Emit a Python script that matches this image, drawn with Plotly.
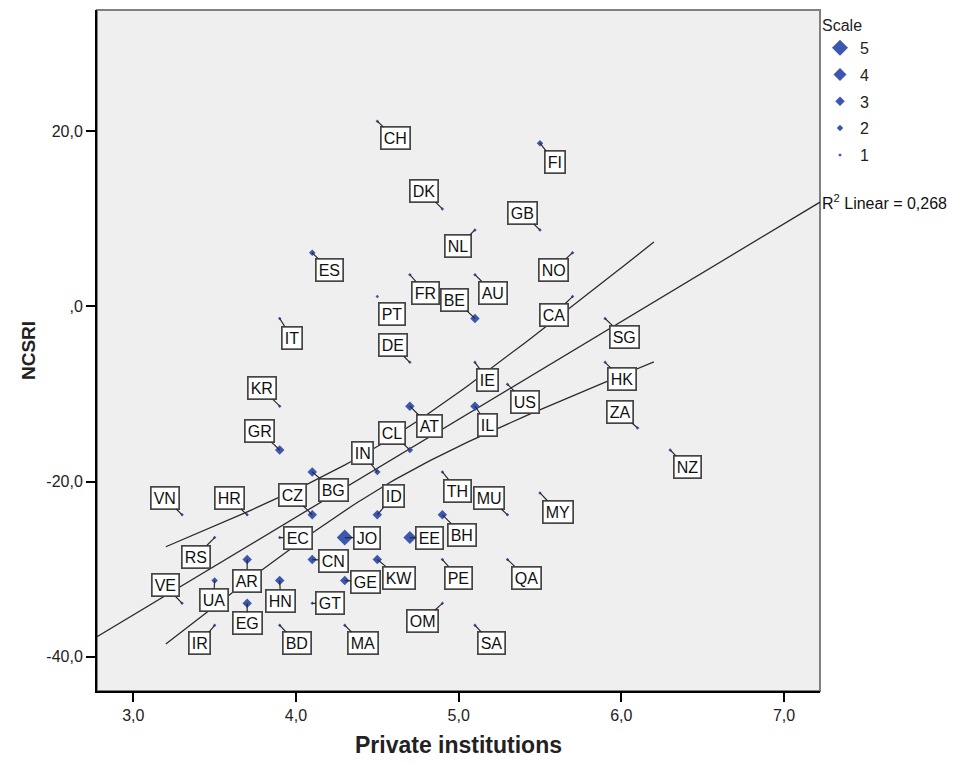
import numpy as np
import plotly.graph_objects as go

# ---------------- data ----------------
countries = ["CH", "FI", "DK", "GB", "NL", "ES", "NO", "FR", "AU", "BE",
             "PT", "CA", "IT", "SG", "DE", "KR", "IE", "HK", "US", "AT",
             "IL", "ZA", "GR", "CL", "IN", "NZ", "TH", "VN", "HR", "CZ",
             "BG", "ID", "MU", "MY", "RS", "EC", "JO", "EE", "BH", "CN",
             "KW", "AR", "PE", "QA", "VE", "UA", "HN", "GE", "GT", "EG",
             "OM", "IR", "BD", "MA", "SA"]
private_institutions = [4.5, 5.5, 4.9, 5.5, 5.1, 4.1, 5.7, 4.7, 5.1, 5.1,
                        4.5, 5.7, 3.9, 5.9, 4.7, 3.9, 5.1, 5.9, 5.3, 4.7,
                        5.1, 6.1, 3.9, 4.7, 4.5, 6.3, 4.9, 3.3, 3.7, 4.1,
                        4.1, 4.5, 5.3, 5.5, 3.5, 3.9, 4.3, 4.7, 4.9, 4.1,
                        4.5, 3.7, 4.9, 5.3, 3.3, 3.5, 3.9, 4.3, 4.1, 3.7,
                        4.9, 3.5, 3.9, 4.3, 5.1]
ncsri = [21.1, 18.6, 11.1, 8.7, 8.7, 6.1, 6.1, 3.6, 3.6, -1.4,
         1.1, 1.1, -1.4, -1.4, -6.4, -11.4, -6.4, -6.4, -8.9, -11.4,
         -11.4, -13.9, -16.4, -16.4, -18.9, -16.4, -18.9, -23.8, -23.8, -23.8,
         -18.9, -23.8, -23.8, -21.3, -26.4, -26.4, -26.4, -26.4, -23.8, -28.9,
         -28.9, -28.9, -28.9, -28.9, -33.9, -31.3, -31.3, -31.3, -33.9, -33.9,
         -33.9, -36.4, -36.4, -36.4, -36.4]
scale = [1, 2, 1, 1, 1, 2, 1, 1, 1, 3,
         1, 1, 1, 1, 1, 1, 1, 1, 1, 3,
         3, 1, 3, 2, 2, 1, 1, 1, 1, 3,
         3, 3, 1, 1, 1, 1, 5, 4, 3, 3,
         3, 3, 1, 1, 1, 2, 3, 3, 1, 3,
         1, 1, 1, 1, 1]
# label box offset from its point (pixels, y downwards)
label_dx = [18, 15, -18, -18, -17, 17, -19, 16, 18, -20,
            15, -19, 12, 19, -17, -18, 13, 17, 18, 20,
            13, -18, -20, -18, -15, 17, 15, -17, -18, -20,
            21, 16, -18, 18, -19, 18, 22, 20, 20, 21,
            22, 0, 16, 19, -17, -1, 1, 21, 18, 0,
            -20, -15, 17, 18, 17]
label_dy = [17, 19, -18, -17, 16, 17, 17, 18, 18, -19,
            17, 18, 19, 18, -17, -18, 18, 17, 18, 20,
            19, -16, -19, -17, -19, 17, 19, -17, -17, -20,
            18, -19, -17, 19, 19, 0, 0, 0, 20, 1,
            18, 21, 18, 18, -18, 19, 20, 1, 0, 20,
            18, 18, 18, 18, 18]
legend_scales = [5, 4, 3, 2, 1]
scale_px = {1: 3.5, 2: 6.5, 3: 9.5, 4: 13.0, 5: 16.0}
r2_text = "0,268"
band_range = [3.2, 6.2]
x_ticks = [3.0, 4.0, 5.0, 6.0, 7.0]
x_ticktext = ["3,0", "4,0", "5,0", "6,0", "7,0"]
y_ticks = [-40.0, -20.0, 0.0, 20.0]
y_ticktext = ["-40,0", "-20,0", ",0", "20,0"]
x_range = [2.777, 7.221]
y_range = [-43.9, 33.8]
T_CRIT = 1.986

BLUE = "#3D57AE"
LINE = "#2b2b2b"
FONT = "Liberation Sans, Arial, sans-serif"

x = np.array(private_institutions, dtype=float)
y = np.array(ncsri, dtype=float)
s = np.array(scale)
w = s.astype(float)

# ---------------- weighted regression (cases weighted by Scale) ----------------
W = w.sum()
xm = np.sum(w * x) / W
ym = np.sum(w * y) / W
sxx = np.sum(w * (x - xm) ** 2)
b1 = np.sum(w * (x - xm) * (y - ym)) / sxx
b0 = ym - b1 * xm
resid = y - (b0 + b1 * x)
se = np.sqrt(np.sum(w * resid ** 2) / (W - 2))

fig = go.Figure()

xf = np.array(x_range)
fig.add_trace(go.Scatter(x=xf, y=b0 + b1 * xf, mode="lines",
                         line=dict(color=LINE, width=1.3), showlegend=False,
                         hoverinfo="skip"))
xb = np.linspace(band_range[0], band_range[1], 80)
half = T_CRIT * se * np.sqrt(1.0 / W + (xb - xm) ** 2 / sxx)
for sign in (1, -1):
    fig.add_trace(go.Scatter(x=xb, y=b0 + b1 * xb + sign * half, mode="lines",
                             line=dict(color=LINE, width=1.3), showlegend=False,
                             hoverinfo="skip"))

for sv in legend_scales:
    m = s == sv
    fig.add_trace(go.Scatter(
        x=x[m], y=y[m], mode="markers", name=str(sv), legendgroup=str(sv),
        marker=dict(symbol="diamond", color=BLUE, size=scale_px[sv] / 1.3,
                    line=dict(width=0)),
        text=[c for c, k in zip(countries, m) if k],
    ))

for c, xi, yi, dx, dy in zip(countries, x, y, label_dx, label_dy):
    fig.add_annotation(x=xi, y=yi, text=c, showarrow=True, arrowhead=0,
                       arrowwidth=1.2, arrowcolor=LINE, standoff=0,
                       ax=dx, ay=dy, bgcolor="white", bordercolor="#454545",
                       borderwidth=1.7, borderpad=2,
                       font=dict(family=FONT, size=16, color="#111"))

fig.add_annotation(x=1.0, xref="paper", y=b0 + b1 * x_range[1], yref="y",
                   text="R<sup>2</sup> Linear = " + r2_text, showarrow=False,
                   xanchor="left", yanchor="middle",
                   font=dict(family=FONT, size=16, color="#111"))

fig.add_shape(type="rect", xref="paper", yref="paper", x0=0, x1=1, y0=0, y1=1,
              line=dict(color="#808080", width=2), layer="below")

fig.update_layout(
    width=947, height=757,
    margin=dict(l=89, r=135, t=2, b=74),
    paper_bgcolor="white", plot_bgcolor="#EFEFEF",
    font=dict(family=FONT, size=16, color="#222"),
    legend=dict(title=dict(text="Scale", font=dict(size=16)),
                x=1.0, xanchor="left", y=1.0, yanchor="top",
                font=dict(size=16), itemsizing="trace",
                bgcolor="rgba(0,0,0,0)", tracegroupgap=3),
    xaxis=dict(range=x_range, tickvals=x_ticks, ticktext=x_ticktext,
               showgrid=False, zeroline=False, showline=True,
               linecolor="black", linewidth=2, ticks="outside", ticklen=9,
               tickwidth=1.5, tickcolor="black",
               title=dict(text="<b>Private institutions</b>",
                          font=dict(size=23, color="#222"), standoff=14)),
    yaxis=dict(range=y_range, tickvals=y_ticks, ticktext=y_ticktext,
               showgrid=False, zeroline=False, showline=True,
               linecolor="black", linewidth=2, ticks="outside", ticklen=9,
               tickwidth=1.5, tickcolor="black",
               title=dict(text="<b>NCSRI</b>",
                          font=dict(size=19, color="#222"), standoff=6)),
    showlegend=True,
)

fig.write_html("out.html")
